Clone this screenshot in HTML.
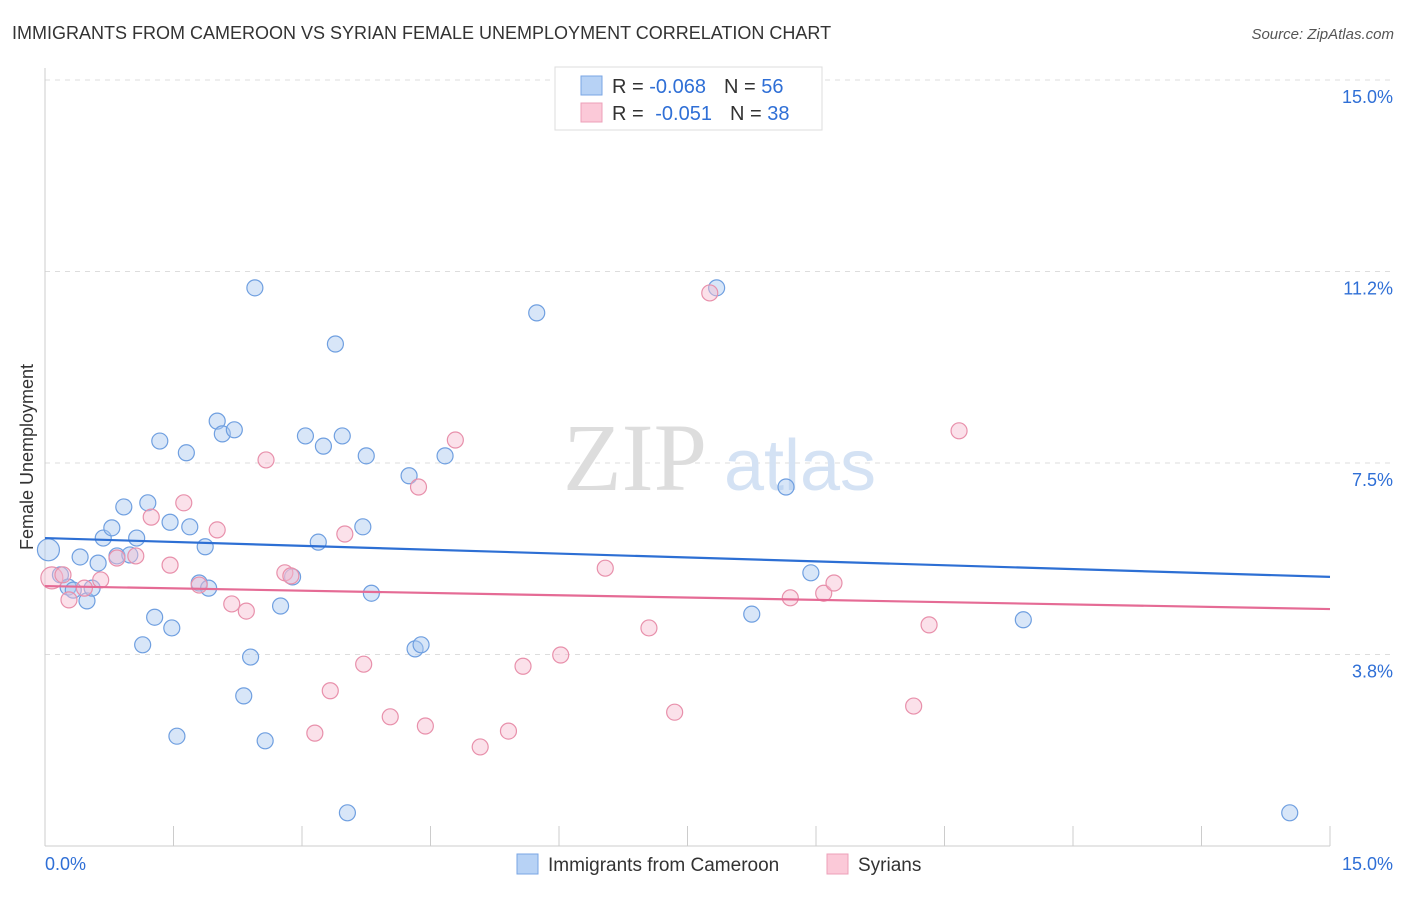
<!DOCTYPE html>
<html><head><meta charset="utf-8"><style>
body{margin:0;background:#fff;font-family:"Liberation Sans",sans-serif;}
</style></head><body>
<svg id="c" width="1406" height="892" xmlns="http://www.w3.org/2000/svg" style="font-family:'Liberation Sans',sans-serif">
<text x="12" y="39" font-size="18" fill="#333">IMMIGRANTS FROM CAMEROON VS SYRIAN FEMALE UNEMPLOYMENT CORRELATION CHART</text>
<text x="1394" y="39" font-size="15" fill="#555" text-anchor="end" font-style="italic">Source: ZipAtlas.com</text>
<text x="33" y="457" font-size="18" fill="#333" text-anchor="middle" transform="rotate(-90 33 457)">Female Unemployment</text>
<g id="grid"></g>
<g id="wm">
<text x="635" y="490" font-size="96" fill="#ddd" text-anchor="middle" font-family="Liberation Serif,serif">ZIP</text>
<text x="800" y="490" font-size="72" fill="#d4e2f4" text-anchor="middle">atlas</text>
</g>
<g id="axes"></g>
<g id="marks"></g>
<g>
<rect x="555" y="67" width="267" height="63" fill="#fff" stroke="#ddd"/>
<rect x="581" y="76" width="21" height="19" fill="#b7d2f5" stroke="#7aa6e4"/>
<rect x="581" y="103" width="21" height="19" fill="#fbc9d8" stroke="#eca0b9"/>
<text x="612" y="93" font-size="20" fill="#333">R = <tspan fill="#2f6fd6">-0.068</tspan><tspan dx="18">N = </tspan><tspan fill="#2f6fd6">56</tspan></text>
<text x="612" y="120" font-size="20" fill="#333">R = <tspan fill="#2f6fd6" dx="6">-0.051</tspan><tspan dx="18">N = </tspan><tspan fill="#2f6fd6">38</tspan></text>
</g>
<g>
<rect x="517" y="854" width="21" height="20" fill="#b7d2f5" stroke="#7aa6e4"/>
<text x="548" y="871" font-size="19" fill="#333">Immigrants from Cameroon</text>
<rect x="827" y="854" width="21" height="20" fill="#fbc9d8" stroke="#eca0b9"/>
<text x="858" y="871" font-size="19" fill="#333">Syrians</text>
</g>
</svg>
<script>
const yTicks=[3.75,7.5,11.25,15];
const yTickLabels=["3.8%","7.5%","11.2%","15.0%"];
const xTickLabels=["0.0%","15.0%"];
const blueX=[0.04,0.18,0.27,0.33,0.41,0.49,0.55,0.62,0.68,0.78,0.84,0.92,0.99,1.07,1.14,1.20,1.28,1.34,1.46,1.48,1.54,1.65,1.69,1.80,1.87,1.91,2.01,2.07,2.21,2.32,2.40,2.45,2.57,2.75,2.89,3.04,3.19,3.25,3.39,3.47,3.53,3.71,3.75,3.81,4.25,4.32,4.39,4.67,5.74,7.84,8.25,8.65,8.94,11.42,14.53];
const blueY=[5.80,5.31,5.07,5.01,5.66,4.80,5.05,5.54,6.03,6.23,5.68,6.64,5.70,6.03,3.94,6.72,4.48,7.93,6.34,4.27,2.15,7.70,6.25,5.15,5.86,5.05,8.32,8.07,8.15,2.94,3.70,10.93,2.06,4.70,5.27,8.03,5.95,7.83,9.83,8.03,0.65,6.25,7.64,4.95,7.25,3.86,3.94,7.64,10.44,10.93,4.54,7.03,5.35,4.43,0.65];
const pinkX=[0.08,0.21,0.28,0.46,0.65,0.84,1.06,1.24,1.46,1.62,1.80,2.01,2.18,2.35,2.58,2.80,2.87,3.15,3.33,3.50,3.72,4.03,4.36,4.44,4.79,5.08,5.41,5.58,6.02,6.54,7.05,7.35,7.76,8.70,9.09,9.21,10.14,10.32,10.67];
const pinkY=[5.25,5.31,4.82,5.05,5.21,5.64,5.68,6.44,5.50,6.72,5.11,6.19,4.74,4.60,7.56,5.35,5.29,2.21,3.04,6.11,3.56,2.53,7.03,2.35,7.95,1.94,2.25,3.52,3.74,5.44,4.27,2.62,10.83,4.86,4.95,5.15,2.74,4.33,8.13];
const blueTrend=[6.03,5.27];
const pinkTrend=[5.09,4.64];
const NS="http://www.w3.org/2000/svg";
const X=v=>45+v/15*1285, Y=v=>846-v/3.75*191.5;
function mk(t,a,p){const e=document.createElementNS(NS,t);for(const k in a)e.setAttribute(k,a[k]);document.getElementById(p).appendChild(e);return e;}
yTicks.forEach((t,i)=>{const g=mk('line',{x1:45,x2:1394,y1:Y(t),y2:Y(t),stroke:'#ddd','stroke-dasharray':'5,5'},'grid');


const l=mk('text',{x:1393,y:Y(t)+23,'font-size':18,fill:'#2f6fd6','text-anchor':'end'},'axes');l.textContent=yTickLabels[i];

});
mk('line',{x1:45,x2:45,y1:68,y2:846,stroke:'#ccc'},'axes');
mk('line',{x1:45,x2:1330,y1:846,y2:846,stroke:'#ccc'},'axes');
for(let i=0;i<=10;i++){const t=mk('line',{x1:X(i*1.5),x2:X(i*1.5),y1:826,y2:846,stroke:'#ccc'},'axes');

}
[[45,'start'],[1393,'end']].forEach((p,i)=>{const l=mk('text',{x:p[0],y:870,'font-size':18,fill:'#2f6fd6','text-anchor':p[1]},'axes');l.textContent=xTickLabels[i];

});
function pts(xs,ys,fill,stroke,name){xs.forEach((x,i)=>{const c=mk('circle',{cx:X(x),cy:Y(ys[i]),r:i==0?11:8,fill:fill,'fill-opacity':0.45,stroke:stroke,'stroke-width':1.2},'marks');

});}
pts(blueX,blueY,'#a8c8f0','#6f9fe0','point-cameroon');
pts(pinkX,pinkY,'#f7bcd0','#e890ab','point-syrians');
const t1=mk('line',{x1:X(0),y1:Y(blueTrend[0]),x2:X(15),y2:Y(blueTrend[1]),stroke:'#2d6fd4','stroke-width':2.2},'marks');


const t2=mk('line',{x1:X(0),y1:Y(pinkTrend[0]),x2:X(15),y2:Y(pinkTrend[1]),stroke:'#e56b95','stroke-width':2.2},'marks');


</script>
</body></html>
